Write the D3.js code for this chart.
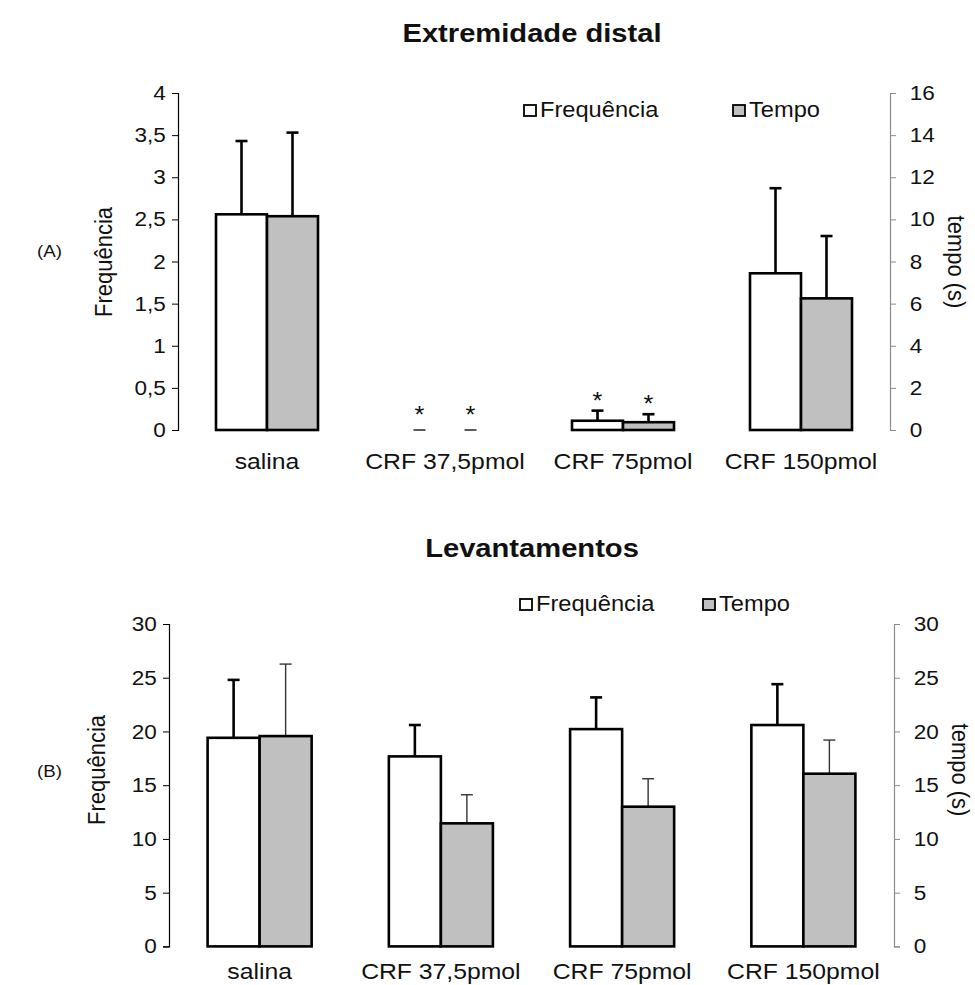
<!DOCTYPE html>
<html>
<head>
<meta charset="utf-8">
<script src="https://cdn.jsdelivr.net/npm/d3@7/dist/d3.min.js"></script>
<style>
  html, body { margin: 0; padding: 0; background: #fff; }
  svg { display: block; font-family: "Liberation Sans", Arial, sans-serif; }
</style>
</head>
<body>
<svg id="chart" width="975" height="985"></svg>
<script>
// Groups on the x axis
const categories = ["salina", "CRF 37,5pmol", "CRF 75pmol", "CRF 150pmol"];

// Panel A – Extremidade distal
const distalFreq    = [2.56, 0, 0.11, 1.86];
const distalFreqErr = [0.87, 0, 0.12, 1.01];
const distalTempo    = [10.15, 0, 0.37, 6.25];
const distalTempoErr = [3.97, 0, 0.38, 2.96];
const distalSig = [false, true, true, false];
const distalLeftTicks  = [0, 0.5, 1, 1.5, 2, 2.5, 3, 3.5, 4];
const distalRightTicks = [0, 2, 4, 6, 8, 10, 12, 14, 16];

// Panel B – Levantamentos
const levFreq    = [19.41, 17.68, 20.22, 20.6];
const levFreqErr = [5.39, 2.92, 2.95, 3.8];
const levTempo    = [19.57, 11.45, 13.0, 16.07];
const levTempoErr = [6.7, 2.66, 2.6, 3.13];
const levSig = [false, false, false, false];
const levLeftTicks  = [0, 5, 10, 15, 20, 25, 30];
const levRightTicks = [0, 5, 10, 15, 20, 25, 30];

const seriesNames = ["Frequência", "Tempo"];
const fills = ["#ffffff", "#c0c0c0"];

// text in this figure is set slightly wide
const SX = 1.1;

const svg = d3.select("#chart");
const fmt = d => String(d).replace(".", ",");

function label(parent, x, y, str, size, opts = {}) {
  const g = parent.append("g")
    .attr("transform", `translate(${x},${y}) rotate(${opts.rotate || 0}) scale(${opts.rotate ? 1 : SX},${opts.rotate ? SX : 1})`);
  const t = g.append("text").attr("font-size", size).attr("fill", "#111")
    .attr("text-anchor", opts.anchor || "start").text(str);
  if (opts.bold) t.attr("font-weight", "bold");
  return t;
}

function panel(cfg) {
  const g = svg.append("g");
  const x = d3.scaleBand().domain(categories).range([cfg.x0, cfg.x1])
    .paddingInner(cfg.pad).paddingOuter(cfg.pad / 2);
  const xs = d3.scaleBand().domain([0, 1]).range([0, x.bandwidth()]);
  const yL = d3.scaleLinear().domain([0, cfg.leftMax]).range([cfg.yBottom, cfg.yTop]);
  const yR = d3.scaleLinear().domain([0, cfg.rightMax]).range([cfg.yBottom, cfg.yTop]);

  // title and panel letter
  label(g, 532, cfg.titleY, cfg.title, 26.5, { anchor: "middle", bold: true });
  label(g, 37, cfg.letterY, cfg.letter, 17);

  // left axis
  const left = g.append("g").attr("transform", `translate(${cfg.x0},0)`)
    .call(d3.axisLeft(yL).tickValues(cfg.leftTicks).tickFormat(fmt).tickSizeOuter(0).tickSize(6).tickPadding(5));
  left.select(".domain").attr("stroke", "#000").attr("stroke-width", 1.2);
  left.selectAll(".tick line").attr("stroke", "#000");
  left.selectAll("text").attr("font-size", 20.5).attr("fill", "#111")
    .attr("font-family", "Liberation Sans, Arial, sans-serif").attr("transform", `scale(${SX},1)`);

  // right axis
  const right = g.append("g").attr("transform", `translate(${cfg.x1},0)`)
    .call(d3.axisRight(yR).tickValues(cfg.rightTicks).tickFormat(fmt).tickSizeOuter(0).tickSize(6).tickPadding(12));
  right.select(".domain").attr("stroke", "#8c8c8c").attr("stroke-width", 1.2);
  right.selectAll(".tick line").attr("stroke", "#8c8c8c");
  right.selectAll("text").attr("font-size", 20.5).attr("fill", "#111")
    .attr("font-family", "Liberation Sans, Arial, sans-serif").attr("transform", `scale(${SX},1)`);

  // axis titles
  label(g, cfg.leftTitleX, cfg.titleMidY, "Frequência", 22, { anchor: "middle", rotate: -90 });
  label(g, cfg.rightTitleX, cfg.titleMidY, "tempo (s)", 22, { anchor: "middle", rotate: 90 });

  // category labels
  categories.forEach(c => label(g, x(c) + x.bandwidth() / 2, cfg.labelY, c, 22.5, { anchor: "middle" }));

  const series = [
    { vals: cfg.freq, errs: cfg.freqErr, y: yL, errW: 2.6, errC: "#000" },
    { vals: cfg.tempo, errs: cfg.tempoErr, y: yR, errW: cfg.tempoErrW, errC: cfg.tempoErrC }
  ];

  const errLayer = g.append("g");
  const barLayer = g.append("g");
  series.forEach((s, si) => {
    s.vals.forEach((v, i) => {
      const bx = x(categories[i]) + xs(si);
      const cx = bx + xs.bandwidth() / 2;
      const top = s.y(v + s.errs[i]);
      if (v > 0) {
        errLayer.append("line").attr("x1", cx).attr("x2", cx).attr("y1", s.y(v)).attr("y2", top)
          .attr("stroke", s.errC).attr("stroke-width", s.errW);
        barLayer.append("rect").attr("x", bx).attr("y", s.y(v))
          .attr("width", xs.bandwidth()).attr("height", s.y(0) - s.y(v))
          .attr("fill", fills[si]).attr("stroke", "#000").attr("stroke-width", 2.6);
      }
      errLayer.append("line").attr("x1", cx - 6).attr("x2", cx + 6).attr("y1", top).attr("y2", top)
        .attr("stroke", s.errC).attr("stroke-width", v > 0 ? s.errW : 1.3);
      if (cfg.sig[i]) {
        label(g, cx, top - (v > 0 ? 2 : 7), "*", 23, { anchor: "middle" });
      }
    });
  });

  // legend
  cfg.legendX.forEach((lx, i) => {
    g.append("rect").attr("x", lx).attr("y", cfg.legendY - 12).attr("width", 12).attr("height", 11)
      .attr("fill", fills[i]).attr("stroke", "#000").attr("stroke-width", 1.8);
    label(g, lx + 16, cfg.legendY, seriesNames[i], 21.5);
  });
}

panel({
  title: "Extremidade distal", titleY: 42, letter: "(A)", letterY: 257,
  x0: 178, x1: 890, pad: 0.427, yTop: 93, yBottom: 430,
  leftMax: 4, rightMax: 16, leftTicks: distalLeftTicks, rightTicks: distalRightTicks,
  leftTitleX: 112, rightTitleX: 948, titleMidY: 262, labelY: 469,
  freq: distalFreq, freqErr: distalFreqErr, tempo: distalTempo, tempoErr: distalTempoErr,
  sig: distalSig, tempoErrW: 2.6, tempoErrC: "#000",
  legendX: [524, 733], legendY: 117
});

panel({
  title: "Levantamentos", titleY: 557, letter: "(B)", letterY: 777,
  x0: 169, x1: 894, pad: 0.426, yTop: 624, yBottom: 946.4,
  leftMax: 30, rightMax: 30, leftTicks: levLeftTicks, rightTicks: levRightTicks,
  leftTitleX: 105, rightTitleX: 952, titleMidY: 770, labelY: 979,
  freq: levFreq, freqErr: levFreqErr, tempo: levTempo, tempoErr: levTempoErr,
  sig: levSig, tempoErrW: 1.4, tempoErrC: "#333",
  legendX: [520, 703], legendY: 611
});
</script>
</body>
</html>
